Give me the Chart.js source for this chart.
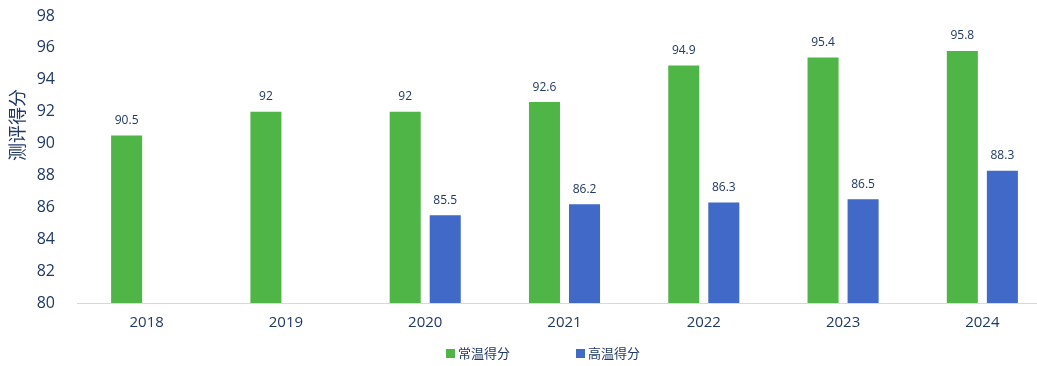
<!DOCTYPE html>
<html lang="zh">
<head>
  <meta charset="UTF-8">
  <title>测评得分</title>
  <script src="https://cdn.jsdelivr.net/npm/chart.js"></script>
  <style>
    body { margin: 0; padding: 0; background: #fff; overflow: hidden; font-family: "Open Sans", "Noto Sans CJK SC", sans-serif; }
    .wrap { position: relative; width: 1060px; height: 366px; }
    .legend { position: absolute; top: 343px; left: 0; font-size: 13px; color: #1f3864; font-family: "Noto Sans CJK SC", sans-serif; }
    .legend span { position: absolute; white-space: nowrap; line-height: 20px; }
    .legend i { display: inline-block; width: 9px; height: 9px; margin-right: 3px; vertical-align: 0px; }
  </style>
</head>
<body>
  <div class="wrap">
    <canvas id="scoreChart" width="1060" height="366"></canvas>
    <div class="legend">
      <span style="left:446px"><i style="background:#50b547"></i>常温得分</span>
      <span style="left:576px"><i style="background:#4169c8"></i>高温得分</span>
    </div>
  </div>

  <script>
    const years = ['2018', '2019', '2020', '2021', '2022', '2023', '2024'];
    const normalScores = [90.5, 92, 92, 92.6, 94.9, 95.4, 95.8];
    const hotScores = [null, null, 85.5, 86.2, 86.3, 86.5, 88.3];
    const yTicks = [80, 82, 84, 86, 88, 90, 92, 94, 96, 98];

    const textColor = '#1f3864';
    const numFont = '"Open Sans", "Noto Sans CJK SC", sans-serif';

    // 柱顶数值 + 纵轴标题
    const labelPlugin = {
      id: 'labels',
      afterDatasetsDraw(chart) {
        const ctx = chart.ctx;
        ctx.save();
        ctx.fillStyle = textColor;
        ctx.font = '12px ' + numFont;
        ctx.textAlign = 'center';
        ctx.textBaseline = 'middle';
        chart.data.datasets.forEach((ds, i) => {
          chart.getDatasetMeta(i).data.forEach((bar, j) => {
            if (ds.data[j] == null) return;
            ctx.fillText(String(ds.data[j]), bar.x, bar.y - 15);
          });
        });
        ctx.translate(17, 125);
        ctx.rotate(-Math.PI / 2);
        ctx.font = '18px "Noto Sans CJK SC", sans-serif';
        ctx.fillText('测评得分', 0, 0);
        ctx.restore();
      }
    };

    new Chart(document.getElementById('scoreChart'), {
      type: 'bar',
      data: {
        labels: years,
        datasets: [
          { label: '常温得分', data: normalScores, backgroundColor: '#50b547' },
          { label: '高温得分', data: hotScores, backgroundColor: '#4169c8' }
        ]
      },
      options: {
        responsive: false,
        animation: false,
        categoryPercentage: 0.575,
        barPercentage: 0.775,
        layout: { padding: { top: 0, right: 8, left: 0, bottom: 0 } },
        plugins: { legend: { display: false }, tooltip: { enabled: false } },
        scales: {
          x: {
            grid: { display: false },
            border: { color: '#d9d9d9', width: 1 },
            ticks: { color: textColor, font: { size: 15, family: numFont }, padding: 3 },
            afterFit(scale) { scale.height = 63; }
          },
          y: {
            min: 80,
            max: 98,
            afterBuildTicks(scale) { scale.ticks = yTicks.map(v => ({ value: v })); },
            grid: { display: false },
            border: { display: false },
            ticks: { color: textColor, font: { size: 16, family: numFont }, padding: 14 },
            afterFit(scale) { scale.width = 77; scale.paddingTop = 16; }
          }
        }
      },
      plugins: [labelPlugin]
    });
  </script>
</body>
</html>
